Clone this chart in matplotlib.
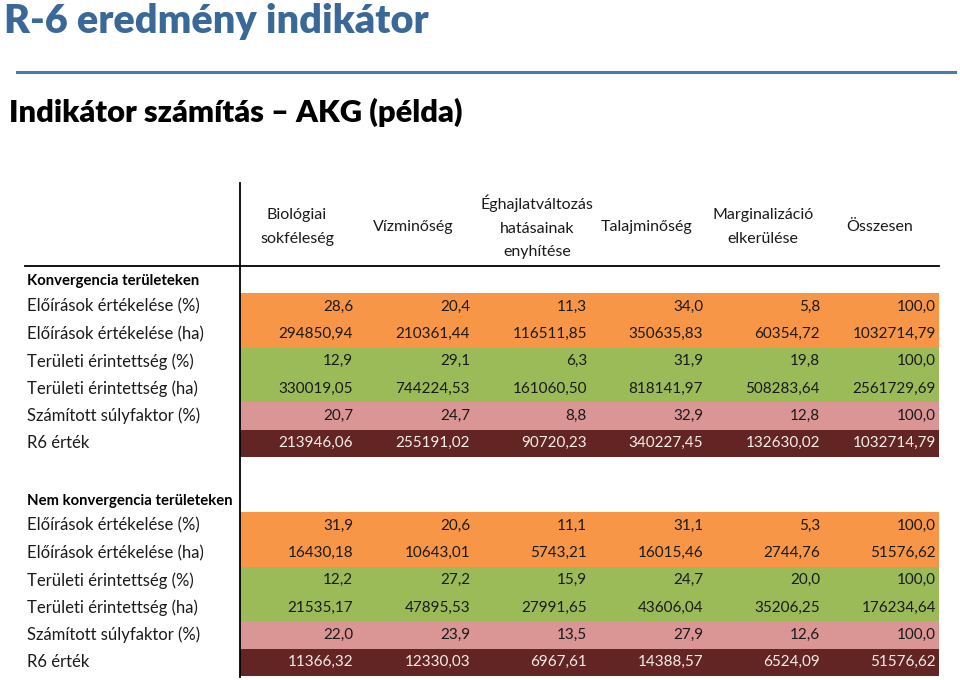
import matplotlib
matplotlib.use('Agg')
import matplotlib.pyplot as plt

plt.rcParams['font.family'] = ['Lato', 'DejaVu Sans']

title = 'R-6 eredmény indikátor'
subtitle = 'Indikátor számítás – AKG (példa)'

columns = ['Biológiai\nsokféleség', 'Vízminőség',
           'Éghajlatváltozás\nhatásainak\nenyhítése', 'Talajminőség',
           'Marginalizáció\nelkerülése', 'Összesen']
row_labels = ['Előírások értékelése (%)', 'Előírások értékelése (ha)',
              'Területi érintettség (%)', 'Területi érintettség (ha)',
              'Számított súlyfaktor (%)', 'R6 érték']
row_decimals = [1, 2, 1, 2, 1, 2]

section1 = 'Konvergencia területeken'
konv = [
    [28.6, 20.4, 11.3, 34.0, 5.8, 100.0],
    [294850.94, 210361.44, 116511.85, 350635.83, 60354.72, 1032714.79],
    [12.9, 29.1, 6.3, 31.9, 19.8, 100.0],
    [330019.05, 744224.53, 161060.50, 818141.97, 508283.64, 2561729.69],
    [20.7, 24.7, 8.8, 32.9, 12.8, 100.0],
    [213946.06, 255191.02, 90720.23, 340227.45, 132630.02, 1032714.79],
]

section2 = 'Nem konvergencia területeken'
nem_konv = [
    [31.9, 20.6, 11.1, 31.1, 5.3, 100.0],
    [16430.18, 10643.01, 5743.21, 16015.46, 2744.76, 51576.62],
    [12.2, 27.2, 15.9, 24.7, 20.0, 100.0],
    [21535.17, 47895.53, 27991.65, 43606.04, 35206.25, 176234.64],
    [22.0, 23.9, 13.5, 27.9, 12.6, 100.0],
    [11366.32, 12330.03, 6967.61, 14388.57, 6524.09, 51576.62],
]

row_colors = ['#F79646', '#F79646', '#9BBB59', '#9BBB59', '#DA9694', '#632523']
text_colors = ['#1a1a1a'] * 5 + ['#f4efe9']

# layout in pixels
col_right = [353, 470, 587, 703, 820, 936]
col_center = [297, 413, 537, 647, 763, 880]
table_left, table_right = 240, 939
row_h = 27.3

fig = plt.figure(figsize=(9.6, 6.8), dpi=100)
ax = fig.add_axes([0, 0, 1, 1])
ax.set_xlim(0, 960)
ax.set_ylim(680, 0)
ax.axis('off')

ax.text(4, 22, title, fontsize=28.5, fontweight='heavy', color='#3A6898', va='center', ha='left')
ax.plot([17, 955], [71.5, 71.5], color='#5079A8', lw=2.2)
ax.text(9, 112, subtitle, fontsize=22.2, fontweight='heavy', color='black', va='center', ha='left')

# header
for x, name in zip(col_center, columns):
    ax.text(x, 227, name, fontsize=11.5, ha='center', va='center', linespacing=1.85, color='#1a1a1a')
ax.plot([25, table_right], [265.5, 265.5], color='black', lw=1.3)
ax.plot([table_left, table_left], [183, 677], color='black', lw=1.3)


def draw_section(label, label_y, top, data):
    ax.text(27, label_y, label, fontsize=10.7, fontweight='bold', va='center', color='black')
    for i, (name, vals) in enumerate(zip(row_labels, data)):
        yc = top + row_h * (i + 0.5)
        ax.barh(yc, table_right - table_left, left=table_left, height=row_h,
                color=row_colors[i], edgecolor='none')
        ax.text(27, yc, name, fontsize=12, va='center', color='#1a1a1a')
        fmt = '{:.%df}' % row_decimals[i]
        for x, v in zip(col_right, vals):
            ax.text(x, yc, fmt.format(v).replace('.', ','), fontsize=11,
                    ha='right', va='center', color=text_colors[i])


draw_section(section1, 281, 293, konv)
draw_section(section2, 501, 512, nem_konv)

fig.savefig('out.png', dpi=100)
